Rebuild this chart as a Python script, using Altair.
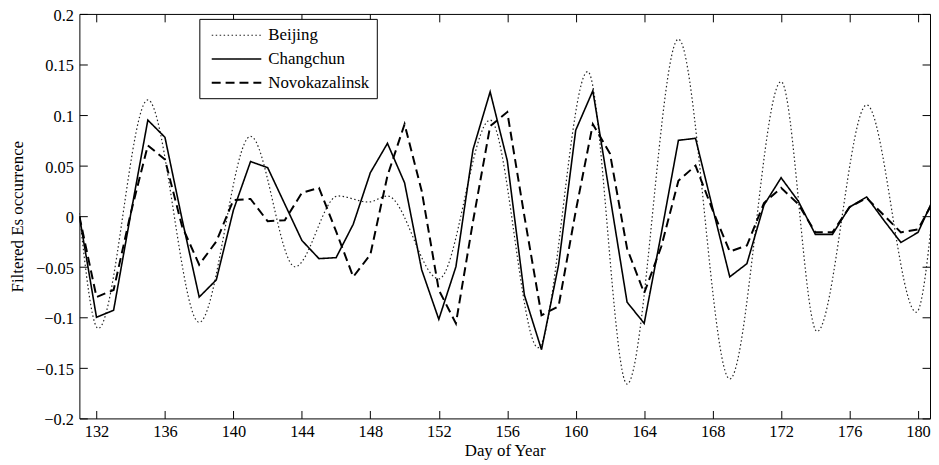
import altair as alt
import pandas as pd

# ---------------- data ----------------
days = list(range(131, 182))
changchun = [0.000, -0.100, -0.093, 0.002, 0.095, 0.078, -0.003, -0.080, -0.063, 0.006,
             0.054, 0.048, 0.012, -0.024, -0.042, -0.041, -0.008, 0.043, 0.072, 0.033,
             -0.053, -0.102, -0.050, 0.066, 0.123, 0.055, -0.078, -0.132, -0.048, 0.085,
             0.124, 0.020, -0.085, -0.106, -0.017, 0.075, 0.077, 0.008, -0.060, -0.047,
             0.011, 0.038, 0.015, -0.018, -0.018, 0.009, 0.019, -0.004, -0.026, -0.016,
             0.021]
novokazalinsk = [0.000, -0.080, -0.073, 0.003, 0.070, 0.056, -0.010, -0.048, -0.025, 0.016,
                 0.017, -0.005, -0.004, 0.023, 0.028, -0.015, -0.060, -0.038, 0.040, 0.091,
                 0.025, -0.073, -0.106, -0.005, 0.089, 0.103, 0.000, -0.098, -0.089, 0.005,
                 0.091, 0.062, -0.032, -0.076, -0.030, 0.035, 0.050, 0.006, -0.035, -0.029,
                 0.013, 0.028, 0.012, -0.016, -0.016, 0.009, 0.018, 0.001, -0.016, -0.013,
                 0.018]
beijing_days = [131.0, 132.1, 135.0, 138.0, 141.0, 143.6, 146.1, 147.9, 149.0, 152.0,
                155.0, 157.8, 160.7, 163.0, 166.0, 169.0, 172.0, 174.1, 177.0, 179.9, 181.0]
beijing_vals = [0.003, -0.111, 0.115, -0.105, 0.079, -0.050, 0.020, 0.014, 0.020, -0.062,
                0.095, -0.130, 0.143, -0.166, 0.175, -0.161, 0.133, -0.114, 0.110, -0.095, 0.030]

series_names = ["Beijing", "Changchun", "Novokazalinsk"]
x_ticks = list(range(132, 181, 4))
y_ticks = [-0.2, -0.15, -0.1, -0.05, 0, 0.05, 0.1, 0.15, 0.2]

rows_lin = []
for d, v in zip(days, changchun):
    rows_lin.append({"day": d, "value": v, "series": "Changchun"})
for d, v in zip(days, novokazalinsk):
    rows_lin.append({"day": d, "value": v, "series": "Novokazalinsk"})
df_lin = pd.DataFrame(rows_lin)
df_bj = pd.DataFrame({"day": beijing_days, "value": beijing_vals, "series": "Beijing"})

# ---------------- styling ----------------
FONT = "Liberation Serif"
xscale = alt.Scale(domain=[131, 180.7], nice=False, zero=False)
yscale = alt.Scale(domain=[-0.2, 0.2], nice=False, zero=False)

common_axis = dict(domain=False, grid=False, tickSize=8, tickColor="black", tickWidth=1,
                   offset=-8, labelFont=FONT, labelFontSize=16.5, labelColor="black",
                   titleFont=FONT, titleFontSize=17, titleColor="black",
                   titleFontWeight="normal")

x_bottom = alt.Axis(orient="bottom", values=x_ticks, format="d", title="Day of Year",
                    labelPadding=5, titlePadding=3, **common_axis)
y_left = alt.Axis(orient="left", values=y_ticks, format=".2~f", title="Filtered Es occurrence",
                  labelPadding=6, titlePadding=9, labelOffset=1.5, **common_axis)
x_top = alt.Axis(orient="top", values=x_ticks, labels=False, title=None, **common_axis)
y_right = alt.Axis(orient="right", values=y_ticks, labels=False, title=None, **common_axis)

legend = alt.Legend(orient="none", legendX=121, legendY=5, title=None,
                    symbolType="M-1,0H5.25", symbolSize=256, symbolOffset=4,
                    labelFont=FONT, labelFontSize=17, labelColor="black",
                    strokeColor="black", fillColor="white", padding=7.5, rowPadding=7,
                    labelOffset=40)

color = alt.Color("series:N", scale=alt.Scale(domain=series_names, range=["#222222", "#000000", "#000000"]),
                  legend=legend)
dash = alt.StrokeDash("series:N", scale=alt.Scale(domain=series_names, range=[[1.5, 2.5], [1, 0], [9, 5]]),
                      legend=legend)
width_enc = alt.StrokeWidth("series:N", scale=alt.Scale(domain=series_names, range=[1.2, 2, 2]),
                            legend=legend)

bj = alt.Chart(df_bj).mark_line(clip=True, interpolate="monotone").encode(
    x=alt.X("day:Q", scale=xscale, axis=x_bottom),
    y=alt.Y("value:Q", scale=yscale, axis=y_left),
    color=color, strokeDash=dash, strokeWidth=width_enc,
)
lin = alt.Chart(df_lin).mark_line(clip=True).encode(
    x=alt.X("day:Q", scale=xscale, axis=x_bottom),
    y=alt.Y("value:Q", scale=yscale, axis=y_left),
    color=color, strokeDash=dash, strokeWidth=width_enc,
)
frame = alt.Chart(df_lin).mark_line(opacity=0).encode(
    x=alt.X("day:Q", scale=xscale, axis=x_top),
    y=alt.Y("value:Q", scale=yscale, axis=y_right),
)

chart = alt.layer(alt.layer(bj, lin), frame).resolve_axis(x="independent", y="independent").properties(
    width=858, height=408,
    padding={"left": 72, "top": 4, "right": 1, "bottom": 45},
    autosize=alt.AutoSizeParams(type="none"),
).configure_view(stroke="black", strokeWidth=1)

chart.save("out.html", embed_options={"renderer": "svg", "actions": False})
